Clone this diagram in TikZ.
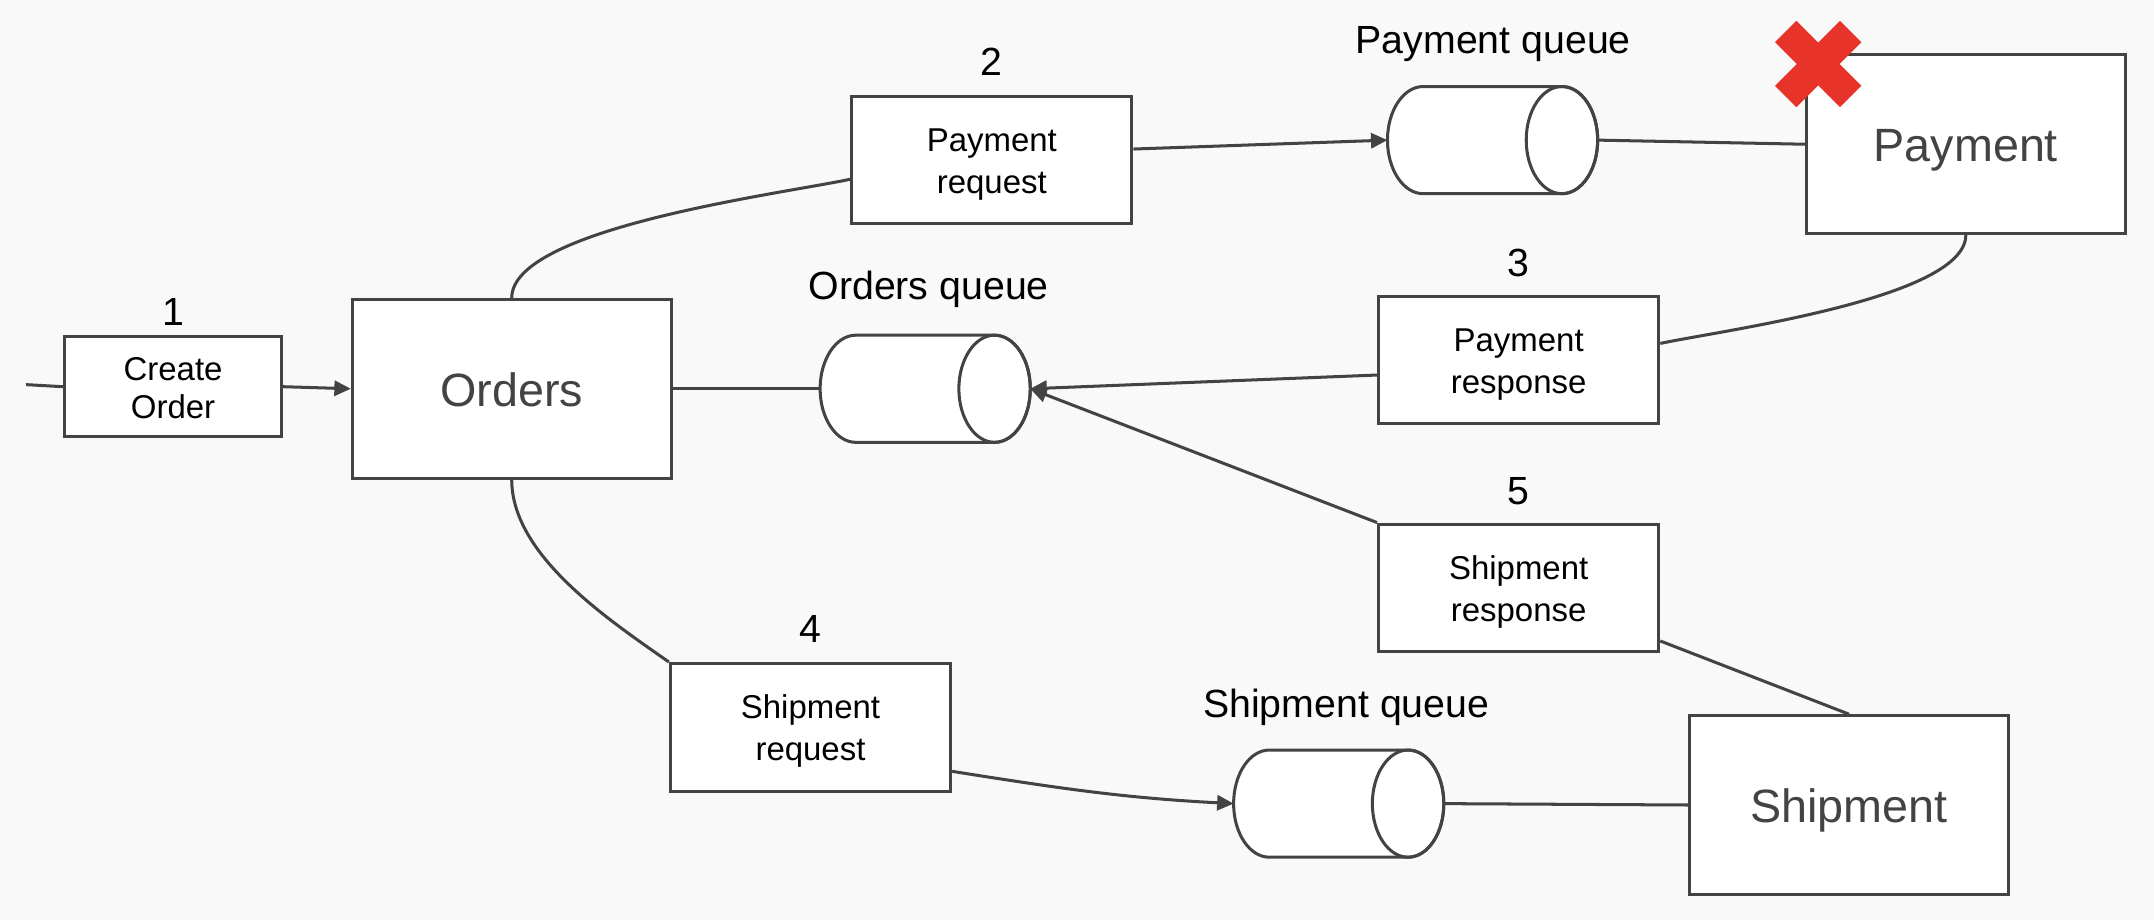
\documentclass[tikz,border=0pt]{standalone}
\usepackage{fontspec}
\setmainfont{Liberation Sans}
\usetikzlibrary{arrows.meta}
\definecolor{linec}{HTML}{434343}
\definecolor{bgc}{HTML}{F9F9F9}
\definecolor{xred}{HTML}{E8332A}

\begin{document}
\begin{tikzpicture}[x=0.5pt,y=0.5pt,
	line width=1.1pt, draw=linec,
	box/.style={draw=linec, fill=white, align=center, font=\fontsize{12}{15.3}\selectfont, text height=24.4pt, text depth=0pt, minimum width=102pt, minimum height=46.5pt, inner sep=0pt},
	service/.style={draw=linec, fill=white, text=linec, font=\fontsize{17}{20}\selectfont, text height=12.6pt, text depth=0pt, minimum width=116pt, minimum height=65pt, inner sep=0pt},
	queue/.style={minimum width=76.5pt, minimum height=39pt, inner sep=0pt, outer sep=0pt},
	tag/.style={anchor=base, font=\fontsize{14.3}{17}\selectfont},
	xbar/.style={fill=xred, minimum width=33.5pt, minimum height=11pt, inner sep=0pt},
	flow/.style={-{Triangle[length=6pt,width=5.5pt]}, linec},
	link/.style={linec}]
	\fill[bgc] (0,0) rectangle (1568,670);

	\node[box, minimum width=79pt, minimum height=36.5pt, font=\fontsize{12}{13.8}\selectfont, text height=23pt] (co) at (126,388.5) {Create\\Order};
	\node[service] (ord) at (372.5,387) {Orders};
	\node[box] (preq) at (722,553.5) {Payment\\request};
	\node[queue] (pq) at (1086.5,568) {};
	\node[service] (pay) at (1431,565) {Payment};
	\node[box] (presp) at (1105.5,408) {Payment\\response};
	\node[queue] (oq) at (673.5,387) {};
	\node[box] (sresp) at (1105.5,242) {Shipment\\response};
	\node[box] (sreq) at (590,140.5) {Shipment\\request};
	\node[queue] (sq) at (974.5,85) {};
	\node[service] (ship) at (1346,84) {Shipment};

	\foreach \q in {pq,oq,sq}{
		\draw[fill=white] ([xshift=-13pt]\q.north east)
			arc[start angle=90, end angle=-90, x radius=13pt, y radius=19.5pt]
			-- ([xshift=13pt]\q.south west)
			arc[start angle=270, end angle=90, x radius=13pt, y radius=19.5pt] -- cycle;
		\draw ([xshift=-13pt]\q.east) ellipse[x radius=13pt, y radius=19.5pt];
	}

	\node[tag] (n1) at (126,433) {1};
	\node[tag] (n2) at (722,615) {2};
	\node[tag] (n3) at (1105,469) {3};
	\node[tag] (n4) at (590,202) {4};
	\node[tag] (n5) at (1105,303) {5};
	\node[tag] (lpq) at (1087,631) {Payment queue};
	\node[tag] (loq) at (676,452) {Orders queue};
	\node[tag] (lsq) at (980,148) {Shipment queue};

	\node[xbar, rotate=45] (x1) at (1323.5,623.4) {};
	\node[xbar, rotate=-45] (x2) at (1323.5,623.4) {};

	\coordinate (in) at (19,390);
	\draw[link] (in) -- (co.west);
	\draw[flow] (co.east) -- (ord.west);
	\draw[link] (ord.north) to[out=90,in=192,looseness=0.5] ([yshift=-7pt]preq.west);
	\draw[flow] ([yshift=4pt]preq.east) -- (pq.west);
	\draw[link] (pq.east) -- (pay.west);
	\draw[link] (pay.south) to[out=-90,in=12,looseness=0.5] ([yshift=6pt]presp.east);
	\draw[flow] ([yshift=-5.5pt]presp.west) -- (oq.east);
	\draw[flow] (sresp.north west) -- (oq.east);
	\draw[link] (oq.west) -- (ord.east);
	\draw[link] (ord.south) to[out=-90,in=145,looseness=0.8] (sreq.north west);
	\draw[flow] ([yshift=-16pt]sreq.east) to[out=-9,in=177] (sq.west);
	\draw[link] (sq.east) -- (ship.west);
	\draw[link] (ship.north) -- ([yshift=4.5pt]sresp.south east);
\end{tikzpicture}
\end{document}
